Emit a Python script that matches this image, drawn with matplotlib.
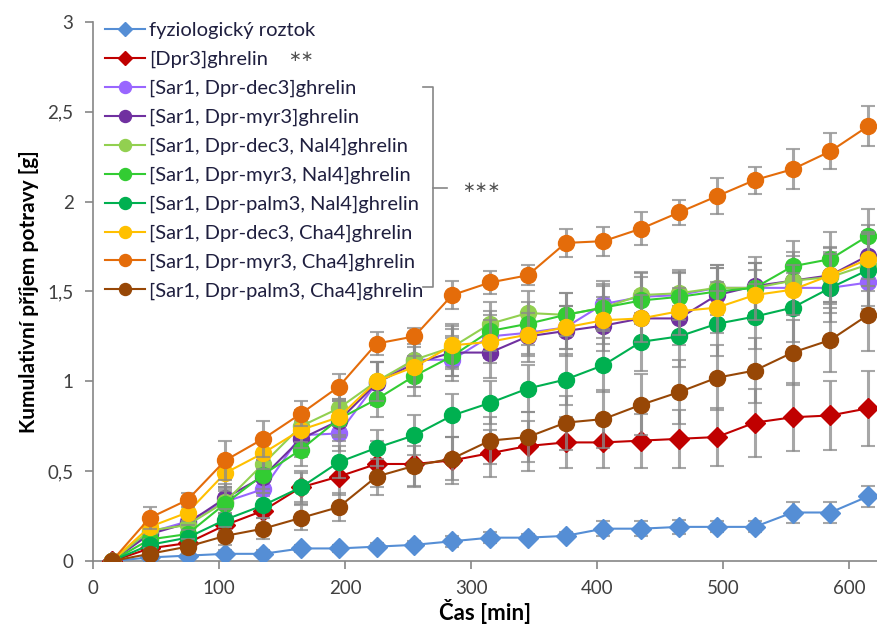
import matplotlib
matplotlib.use("Agg")
import matplotlib.pyplot as plt
from matplotlib.ticker import FuncFormatter

plt.rcParams['font.family'] = ['Lato', 'DejaVu Sans']

time_min = [15, 45, 75, 105, 135, 165, 195, 225, 255, 285, 315, 345, 375, 405, 435, 465, 495, 525, 555, 585, 615]

labels = [
    "fyziologický roztok",
    "[Dpr3]ghrelin",
    "[Sar1, Dpr-dec3]ghrelin",
    "[Sar1, Dpr-myr3]ghrelin",
    "[Sar1, Dpr-dec3, Nal4]ghrelin",
    "[Sar1, Dpr-myr3, Nal4]ghrelin",
    "[Sar1, Dpr-palm3, Nal4]ghrelin",
    "[Sar1, Dpr-dec3, Cha4]ghrelin",
    "[Sar1, Dpr-myr3, Cha4]ghrelin",
    "[Sar1, Dpr-palm3, Cha4]ghrelin",
]

saline = [0.00, 0.02, 0.03, 0.04, 0.04, 0.07, 0.07, 0.08, 0.09, 0.11, 0.13, 0.13, 0.14, 0.18, 0.18, 0.19, 0.19, 0.19, 0.27, 0.27, 0.36]
dpr3 = [0.00, 0.07, 0.10, 0.20, 0.28, 0.41, 0.47, 0.54, 0.54, 0.56, 0.60, 0.64, 0.66, 0.66, 0.67, 0.68, 0.69, 0.77, 0.80, 0.81, 0.85]
dec3 = [0.00, 0.16, 0.22, 0.33, 0.40, 0.70, 0.71, 0.99, 1.12, 1.12, 1.25, 1.27, 1.30, 1.43, 1.47, 1.48, 1.52, 1.52, 1.52, 1.52, 1.55]
myr3 = [0.00, 0.15, 0.21, 0.35, 0.47, 0.68, 0.78, 0.99, 1.10, 1.16, 1.16, 1.25, 1.28, 1.31, 1.35, 1.35, 1.48, 1.53, 1.56, 1.59, 1.70]
dec3_nal4 = [0.00, 0.17, 0.20, 0.33, 0.54, 0.75, 0.85, 1.00, 1.12, 1.19, 1.32, 1.38, 1.37, 1.41, 1.48, 1.49, 1.52, 1.52, 1.56, 1.58, 1.65]
myr3_nal4 = [0.00, 0.12, 0.15, 0.32, 0.48, 0.62, 0.79, 0.90, 1.03, 1.14, 1.28, 1.32, 1.37, 1.41, 1.45, 1.47, 1.50, 1.52, 1.64, 1.68, 1.81]
palm3_nal4 = [0.00, 0.09, 0.13, 0.23, 0.31, 0.41, 0.55, 0.63, 0.70, 0.81, 0.88, 0.96, 1.01, 1.09, 1.22, 1.25, 1.32, 1.36, 1.41, 1.52, 1.62]
dec3_cha4 = [0.00, 0.19, 0.27, 0.49, 0.60, 0.73, 0.80, 1.00, 1.08, 1.20, 1.22, 1.26, 1.30, 1.34, 1.35, 1.39, 1.41, 1.48, 1.51, 1.59, 1.68]
myr3_cha4 = [0.00, 0.24, 0.34, 0.56, 0.68, 0.82, 0.97, 1.21, 1.25, 1.48, 1.55, 1.59, 1.77, 1.78, 1.85, 1.94, 2.03, 2.12, 2.18, 2.28, 2.42]
palm3_cha4 = [0.00, 0.04, 0.08, 0.14, 0.18, 0.24, 0.30, 0.47, 0.53, 0.57, 0.67, 0.69, 0.77, 0.79, 0.87, 0.94, 1.02, 1.06, 1.16, 1.23, 1.37]

saline_err = [0.01, 0.02, 0.02, 0.02, 0.02, 0.02, 0.02, 0.02, 0.02, 0.03, 0.03, 0.02, 0.02, 0.04, 0.04, 0.04, 0.03, 0.03, 0.06, 0.06, 0.06]
dpr3_err = [0.01, 0.04, 0.05, 0.07, 0.08, 0.09, 0.10, 0.13, 0.13, 0.13, 0.13, 0.14, 0.14, 0.14, 0.15, 0.16, 0.16, 0.19, 0.19, 0.19, 0.21]
dec3_err = [0.01, 0.04, 0.05, 0.08, 0.09, 0.10, 0.10, 0.12, 0.12, 0.12, 0.12, 0.12, 0.12, 0.13, 0.13, 0.13, 0.13, 0.14, 0.14, 0.14, 0.15]
myr3_err = [0.01, 0.04, 0.05, 0.08, 0.09, 0.10, 0.11, 0.12, 0.13, 0.13, 0.14, 0.14, 0.14, 0.14, 0.15, 0.15, 0.15, 0.16, 0.16, 0.16, 0.17]
dec3_nal4_err = [0.01, 0.04, 0.05, 0.07, 0.08, 0.09, 0.10, 0.11, 0.11, 0.12, 0.12, 0.12, 0.12, 0.13, 0.13, 0.13, 0.13, 0.14, 0.14, 0.14, 0.15]
myr3_nal4_err = [0.01, 0.04, 0.05, 0.07, 0.08, 0.09, 0.10, 0.10, 0.11, 0.11, 0.11, 0.12, 0.12, 0.12, 0.13, 0.13, 0.13, 0.14, 0.14, 0.15, 0.15]
palm3_nal4_err = [0.01, 0.03, 0.04, 0.06, 0.07, 0.08, 0.09, 0.10, 0.11, 0.12, 0.12, 0.13, 0.14, 0.15, 0.16, 0.17, 0.18, 0.18, 0.19, 0.19, 0.20]
dec3_cha4_err = [0.01, 0.04, 0.05, 0.08, 0.09, 0.10, 0.10, 0.11, 0.11, 0.12, 0.12, 0.12, 0.12, 0.13, 0.13, 0.13, 0.14, 0.14, 0.14, 0.15, 0.15]
myr3_cha4_err = [0.01, 0.06, 0.04, 0.11, 0.10, 0.07, 0.07, 0.065, 0.045, 0.08, 0.065, 0.055, 0.08, 0.08, 0.09, 0.07, 0.10, 0.075, 0.11, 0.10, 0.11]
palm3_cha4_err = [0.01, 0.03, 0.04, 0.05, 0.06, 0.07, 0.08, 0.10, 0.11, 0.12, 0.13, 0.14, 0.15, 0.16, 0.17, 0.18, 0.18, 0.18, 0.18, 0.18, 0.20]

series = [saline, dpr3, dec3, myr3, dec3_nal4, myr3_nal4, palm3_nal4, dec3_cha4, myr3_cha4, palm3_cha4]
errors = [saline_err, dpr3_err, dec3_err, myr3_err, dec3_nal4_err, myr3_nal4_err, palm3_nal4_err, dec3_cha4_err, myr3_cha4_err, palm3_cha4_err]
colors = ["#558ed5", "#c00000", "#9966ff", "#7030a0", "#92d050", "#33cc33", "#00b050", "#ffc000", "#e46c0a", "#974706"]
markers = ["D", "D", "o", "o", "o", "o", "o", "o", "o", "o"]
msizes = [10, 10, 11.5, 11.5, 11.5, 11.5, 11.5, 11.5, 11.5, 11.5]

fig = plt.figure(figsize=(8.77, 6.35), dpi=100)
ax = fig.add_axes([0.106, 0.1165, 0.894, 0.849])

for i, (y, e) in enumerate(zip(series, errors)):
    ax.errorbar(time_min, y, yerr=e, fmt='none', ecolor='#8a8a8a', elinewidth=2.2,
                capsize=5, capthick=1.5, alpha=0.75, zorder=2 + 2 * i)

handles = []
for i, y in enumerate(series):
    ln, = ax.plot(time_min, y, color=colors[i], lw=1.5, marker=markers[i],
                  markersize=msizes[i], markerfacecolor=colors[i],
                  markeredgecolor=colors[i], zorder=3 + 2 * i, label=labels[i])
    handles.append(ln)

ax.set_xlim(0, 622)
ax.set_ylim(0, 3)
ax.set_xticks([0, 100, 200, 300, 400, 500, 600])
ax.set_yticks([0, 0.5, 1, 1.5, 2, 2.5, 3])
ax.yaxis.set_major_formatter(FuncFormatter(lambda v, p: ("%g" % v).replace('.', ',')))

for s in ['top', 'right']:
    ax.spines[s].set_visible(False)
for s in ['left', 'bottom']:
    ax.spines[s].set_color('#868686')
    ax.spines[s].set_linewidth(1.2)
ax.tick_params(axis='both', direction='out', length=6, color='#868686', width=1.2,
               labelsize=13.5, labelcolor='#404040')
ax.tick_params(axis='x', pad=8)
ax.tick_params(axis='y', pad=8)

ax.set_xlabel("Čas [min]", fontsize=16, fontweight='bold', labelpad=1)
ax.set_ylabel("Kumulativní příjem potravy [g]", fontsize=15, fontweight='bold', labelpad=6)

leg = ax.legend(handles=handles, loc='upper left', bbox_to_anchor=(0.0, 1.022),
                frameon=False, fontsize=14.5, handlelength=2.0, handletextpad=0.2,
                labelspacing=0.575, borderaxespad=0.2, markerscale=0.75)
for t in leg.get_texts():
    t.set_color('#1f1f3f')

# significance annotations
tr = ax.transAxes
ax.text(0.249, 0.935, "∗∗", transform=tr, fontsize=11, color='#505050',
        ha='left', va='center', family=['DejaVu Sans'])
ax.plot([0.421, 0.4337, 0.4337, 0.421], [0.879, 0.879, 0.508, 0.508], color='#868686',
        lw=1.2, transform=tr, clip_on=False, zorder=30)
ax.plot([0.4337, 0.4515], [0.692, 0.692], color='#868686', lw=1.2, transform=tr,
        clip_on=False, zorder=30)
ax.text(0.4707, 0.692, "∗∗∗", transform=tr, fontsize=11, color='#505050',
        ha='left', va='center', family=['DejaVu Sans'])

fig.savefig("out.png", dpi=100)
